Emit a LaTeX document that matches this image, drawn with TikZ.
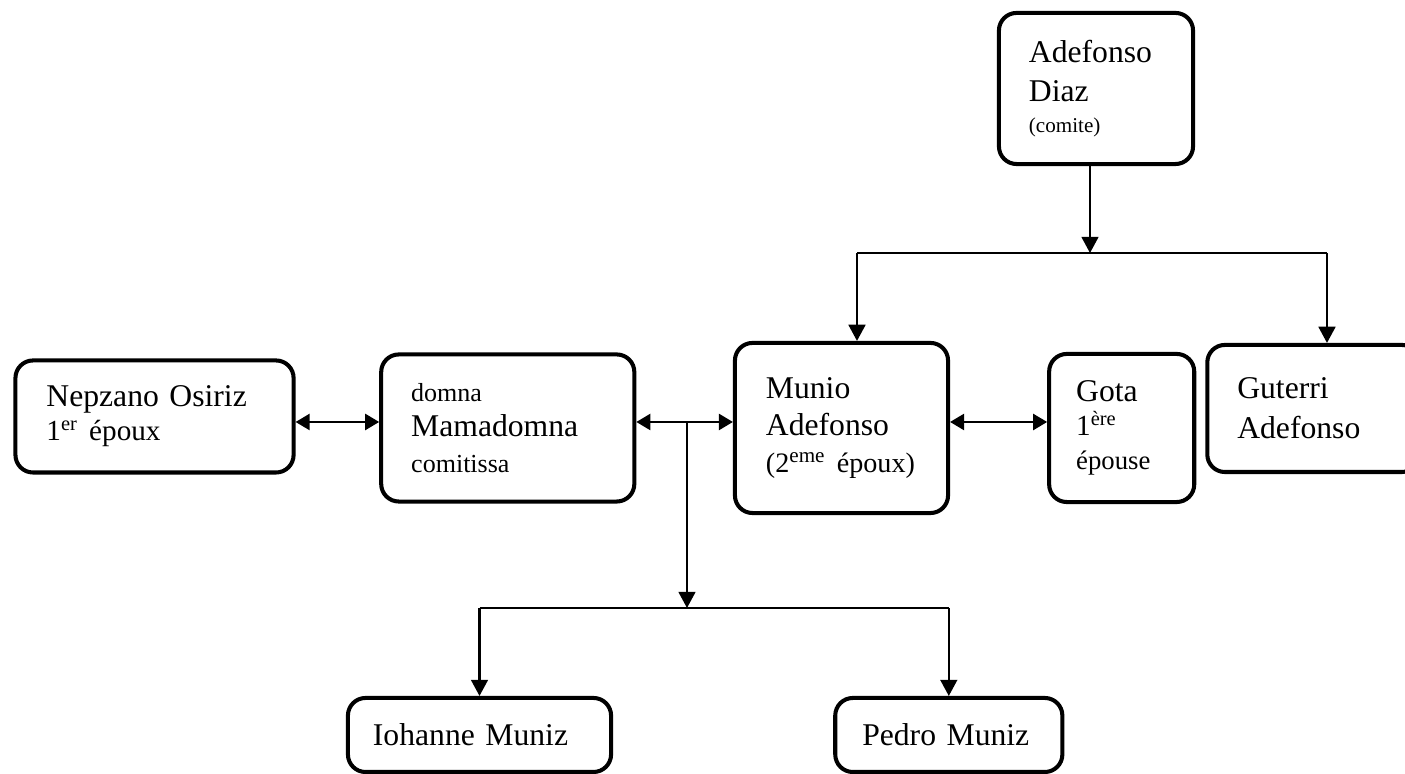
\documentclass[tikz,border=0pt]{standalone}
\usepackage{fontspec}
\setmainfont{Liberation Serif}
\usetikzlibrary{arrows.meta, positioning}
\tikzstyle{person}  = [rectangle, rounded corners=5pt, draw=black, line width=1.15pt,
                       align=left, inner ysep=2pt]
\tikzstyle{arrow}   = [-{Triangle[length=4.6pt, width=4.8pt]}, line width=0.6pt]
\tikzstyle{biarrow} = [{Triangle[length=4pt, width=4.6pt]}-{Triangle[length=4pt, width=4.6pt]}, line width=0.6pt]
\tikzstyle{bar}     = [line width=0.45pt]

\begin{document}
\begin{tikzpicture}[x=0.01cm, y=-0.01cm, node distance=1.0cm, every node/.style={font=\fontsize{9}{10.5}\selectfont}]
    \useasboundingbox (0,0) rectangle (1405,774);

    % middle row
    \node (munio) [person, text width=1.51cm, inner xsep=0.31cm, minimum height=1.70cm] at (841.5,428)
        {Munio\\ Adefonso\\ {\fontsize{8}{10.5}\selectfont (2\textsuperscript{eme} époux)}};
    \node (mamadomna) [person, left=0.965cm of munio, text width=1.93cm, inner xsep=0.30cm, minimum height=1.47cm,
        font=\fontsize{9}{10}\selectfont]
        {{\fontsize{7.4}{10}\selectfont domna}\\ Mamadomna\\ {\fontsize{7.4}{10}\selectfont comitissa}};
    \node (nepzano) [person, left=0.835cm of mamadomna, yshift=0.115cm, text width=2.16cm, inner xsep=0.31cm,
        minimum height=1.12cm, font=\fontsize{9}{9.7}\selectfont]
        {Nepzano Osiriz\\ {\fontsize{8.3}{9.7}\selectfont 1\textsuperscript{er} époux}};
    \node (gota) [person, right=0.97cm of munio, text width=0.91cm, inner xsep=0.27cm, minimum height=1.48cm,
        font=\fontsize{9}{9.7}\selectfont]
        {Gota\\ {\fontsize{8.3}{9.7}\selectfont 1\textsuperscript{ère}}\\ {\fontsize{7.6}{9.7}\selectfont épouse}};
    \node (guterri) [person, right=0.09cm of gota, yshift=0.195cm, text width=1.52cm, inner xsep=0.30cm,
        minimum height=1.27cm, font=\fontsize{9}{11.4}\selectfont] {Guterri\\ Adefonso};

    % parent
    \node (adefonso) [person, text width=1.34cm, inner xsep=0.30cm, minimum height=1.51cm,
        font=\fontsize{9}{11.1}\selectfont] at (1096,88.5)
        {Adefonso\\ Diaz\\[-2.5pt] {\fontsize{6}{8}\selectfont (comite)}};

    % children
    \node (iohanne) [person, text width=2.13cm, inner xsep=0.25cm, minimum height=0.74cm] at (479.5,735) {Iohanne Muniz};
    \node (pedro) [person, right=2.20cm of iohanne, text width=1.73cm, inner xsep=0.27cm, minimum height=0.74cm] {Pedro Muniz};

    % junction points
    \coordinate (wedline) at (0,422);
    \coordinate (topbar) at (1090,253);
    \coordinate (topL) at (857,253);
    \coordinate (topR) at (1327,253);
    \coordinate (kids) at (687,422);
    \coordinate (kidsbar) at (687,608);

    \draw[arrow] (adefonso.south -| topbar) -- (topbar);
    \draw[bar] (topL) -- (topR);
    \draw[arrow] (topL) -- (topL |- munio.north);
    \draw[arrow] (topR) -- (topR |- guterri.north);

    \draw[biarrow] (nepzano.east |- wedline) -- (mamadomna.west |- wedline);
    \draw[biarrow] (mamadomna.east |- wedline) -- (munio.west |- wedline);
    \draw[biarrow] (munio.east |- wedline) -- (gota.west |- wedline);

    \draw[arrow] (kids) -- (kidsbar);
    \draw[bar] (iohanne.north |- kidsbar) -- (pedro.north |- kidsbar);
    \draw[arrow] (iohanne.north |- kidsbar) -- (iohanne.north);
    \draw[arrow] (pedro.north |- kidsbar) -- (pedro.north);
\end{tikzpicture}
\end{document}
